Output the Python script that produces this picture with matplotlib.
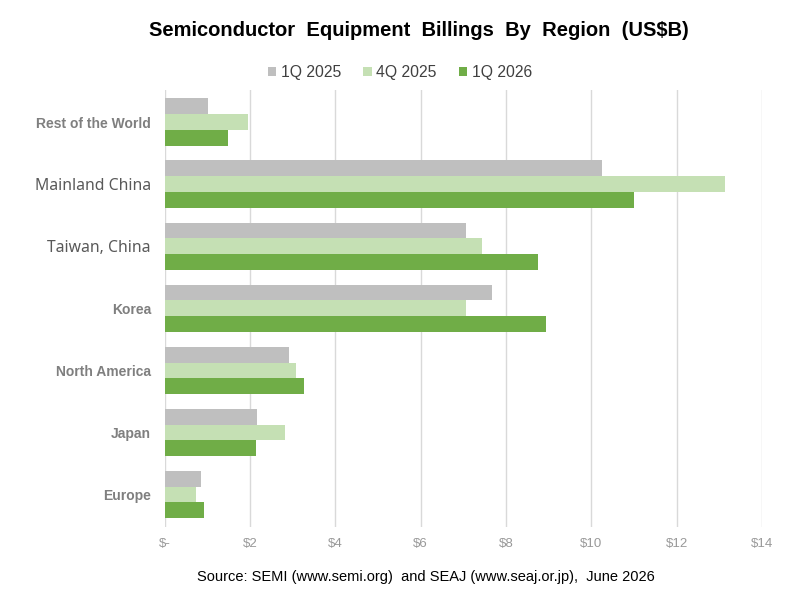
import numpy as np
import matplotlib.pyplot as plt

regions = ['Rest of the World', 'Mainland China', 'Taiwan, China', 'Korea',
           'North America', 'Japan', 'Europe']
q1_2025 = [1.02, 10.24, 7.07, 7.68, 2.92, 2.17, 0.85]
q4_2025 = [1.95, 13.13, 7.43, 7.07, 3.08, 2.81, 0.73]
q1_2026 = [1.48, 10.99, 8.75, 8.93, 3.27, 2.14, 0.93]
series_names = ['1Q 2025', '4Q 2025', '1Q 2026']
colors = ['#BFBFBF', '#C5E0B4', '#70AD47']
xticks = [0, 2, 4, 6, 8, 10, 12, 14]
xtick_labels = ['$-', '$2', '$4', '$6', '$8', '$10', '$12', '$14']

plt.rcParams['font.family'] = ['Liberation Sans', 'DejaVu Sans']

fig = plt.figure(figsize=(8, 6), dpi=100)
ax = fig.add_axes([0.206, 0.122, 0.7465, 0.728])

y = np.arange(len(regions))
h = 0.256
for i, (vals, name, c) in enumerate(zip([q1_2025, q4_2025, q1_2026], series_names, colors)):
    ax.barh(y + (i - 1) * h, vals, height=h, color=c, label=name, zorder=3)

ax.set_ylim(6.52, -0.52)
ax.set_xlim(0, 14)
ax.set_xticks(xticks)
ax.set_xticklabels(xtick_labels, color='#999999', fontsize=9.5)
ax.set_yticks(y)
ax.set_yticklabels(regions)
for lbl in ax.get_yticklabels():
    if lbl.get_text() in ('Mainland China', 'Taiwan, China'):
        lbl.set_fontfamily('Noto Sans')
        lbl.set_fontsize(11.3)
        lbl.set_color('#595959')
    else:
        lbl.set_fontweight('bold')
        lbl.set_fontsize(10)
        lbl.set_color('#7F7F7F')

ax.grid(axis='x', color='#D9D9D9', linewidth=1, zorder=0)
for s in ax.spines.values():
    s.set_visible(False)
ax.tick_params(length=0)
ax.tick_params(axis='x', pad=8)
ax.tick_params(axis='y', pad=10)

fig.text(0.524, 0.949, 'Semiconductor  Equipment  Billings  By  Region  (US$B)',
         ha='center', va='center', fontsize=14.5, fontweight='bold', color='#000000')
fig.legend(loc='center', bbox_to_anchor=(0.5, 0.879), ncol=3, frameon=False,
           fontsize=11.3, handlelength=0.55, handleheight=0.55, handletextpad=0.3,
           columnspacing=1.4, labelcolor='#404040')
fig.text(0.532, 0.038, 'Source: SEMI (www.semi.org)  and SEAJ (www.seaj.or.jp),  June 2026',
         ha='center', va='center', fontsize=10.5, color='#000000')

fig.savefig('out.png', dpi=100)
